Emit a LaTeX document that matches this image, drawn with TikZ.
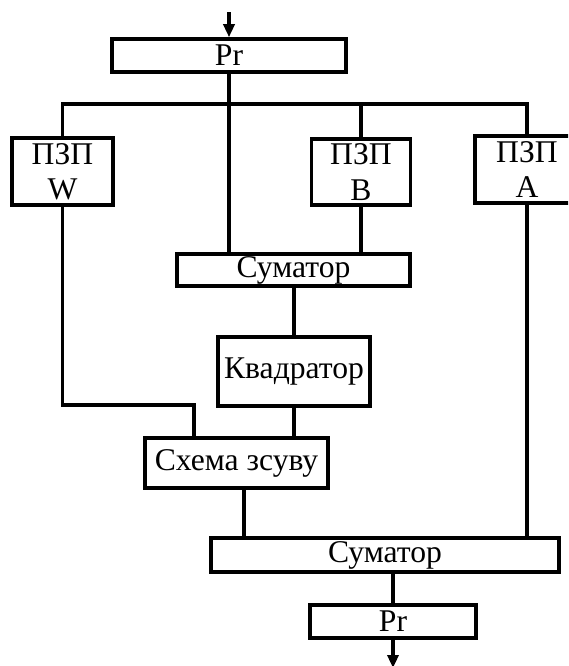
\documentclass[tikz,border=0pt]{standalone}
\usepackage{fontspec}
\setmainfont{Liberation Serif}
\usetikzlibrary{arrows.meta}
\tikzset{
	lin/.style = {line width=2pt},
	strilka/.style = {lin, -{Triangle[length=2.6mm,width=2.2mm]}},
	blok/.style = {draw, rectangle, lin, inner sep=0pt, align=center,
		font=\fontsize{18}{20}\selectfont}
}

\begin{document}
\begin{tikzpicture}[x=0.02cm, y=-0.02cm]
	\clip (0,0) rectangle (568,666);
	\node[blok, minimum width=4.68cm, minimum height=0.66cm] (pr1) at (229,55.5) {Pr};
	\node[blok, minimum width=2.02cm, minimum height=1.34cm] (w) at (62.5,171.5) {ПЗП\\W};
	\node[blok, minimum width=1.98cm, minimum height=1.32cm] (b) at (361,172) {ПЗП\\B};
	\node[blok, minimum width=2.08cm, minimum height=1.34cm] (a) at (527,169.5) {ПЗП\\A};
	\node[blok, minimum width=4.66cm, minimum height=0.64cm] (sum1) at (293.5,270) {Суматор};
	\node[blok, minimum width=3.04cm, minimum height=1.38cm] (kv) at (294,371.5) {Квадратор};
	\node[blok, minimum width=3.66cm, minimum height=1.0cm] (shema) at (236.5,463) {Схема зсуву};
	\node[blok, minimum width=6.96cm, minimum height=0.68cm] (sum2) at (385,555) {Суматор};
	\node[blok, minimum width=3.32cm, minimum height=0.66cm] (pr2) at (393,621.5) {Pr};
	\coordinate (in) at (229,12);
	\coordinate (out) at (393,668);
	\coordinate (bus) at (300,104);
	\coordinate (wturn) at (194,405);
	\draw[strilka] (in) -- (pr1);
	\draw[lin] (w.north) |- (bus) -| (a.north);
	\draw[lin] (pr1.south) -- (pr1.south |- sum1.north);
	\draw[lin] (b.north) -- (b.north |- bus);
	\draw[lin] (b.south) -- (b.south |- sum1.north);
	\draw[lin] (kv.north |- sum1.south) -- (kv.north);
	\draw[lin] (kv.south) -- (kv.south |- shema.north);
	\draw[lin] (w.south) |- (wturn) -- (wturn |- shema.north);
	\draw[lin] ([xshift=0.15cm]shema.south) -- ([xshift=0.15cm]shema.south |- sum2.north);
	\draw[lin] (a.south) -- (a.south |- sum2.north);
	\draw[lin] (pr2.north) -- (pr2.north |- sum2.south);
	\draw[strilka] (pr2.south) -- (out);
\end{tikzpicture}
\end{document}
